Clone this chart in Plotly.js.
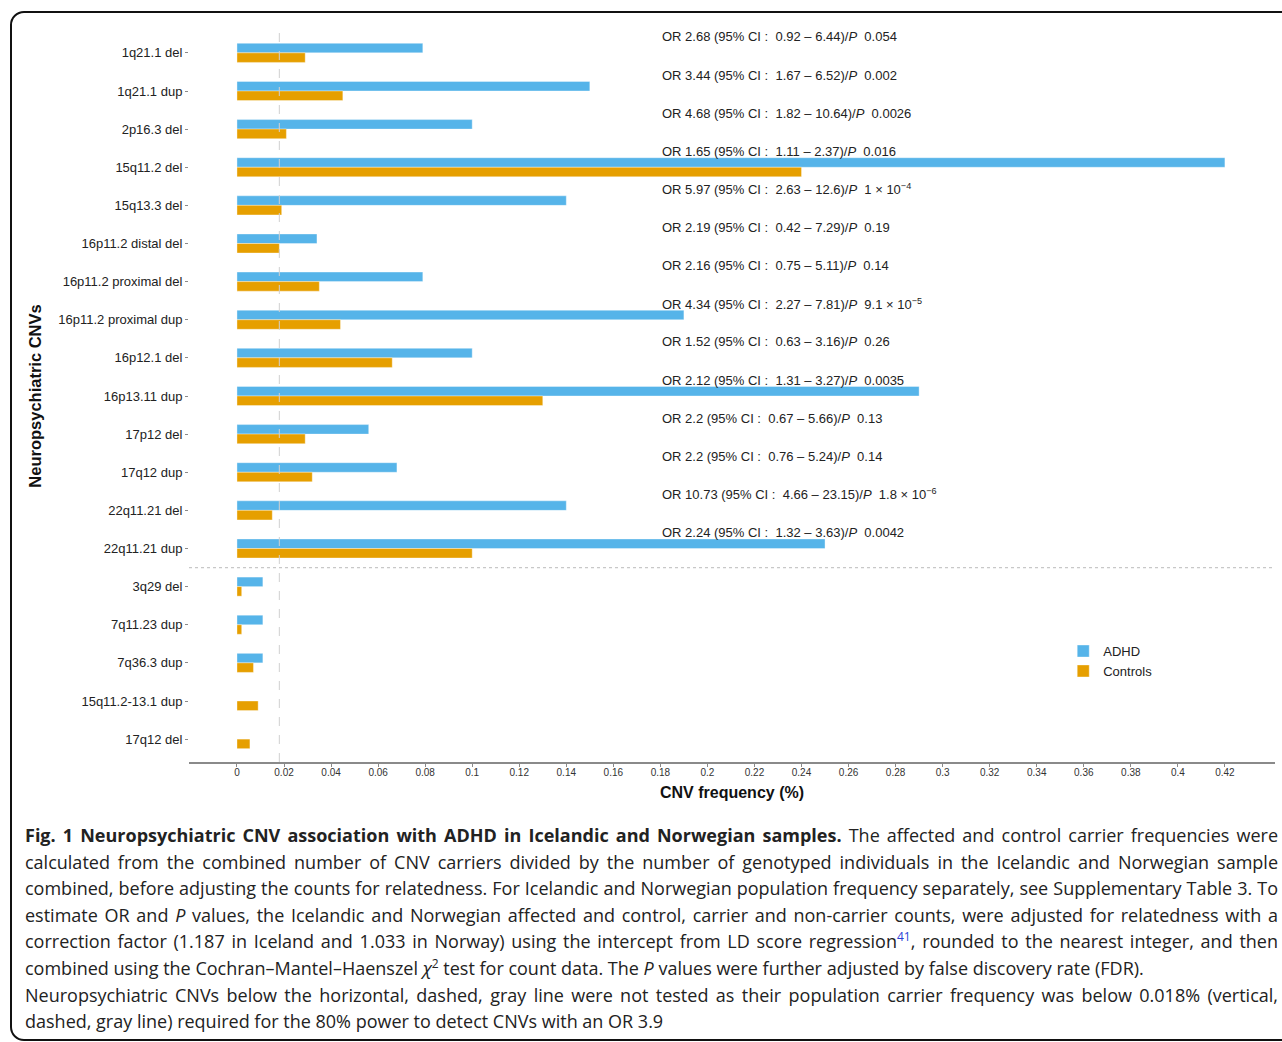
<!DOCTYPE html>
<html>
<head>
<meta charset="utf-8">
<script src="https://cdn.plot.ly/plotly-3.0.1.min.js"></script>
<style>
  html, body { margin: 0; padding: 0; background: #fff; }
  #wrap { position: relative; width: 1282px; height: 1042px; overflow: hidden; background: #fff; }
  #chart { position: absolute; left: 0; top: 0; width: 1282px; height: 810px; }
  #frame { position: absolute; left: 10px; top: 11px; width: 1320px; height: 1030px;
           border: 2px solid #111; border-radius: 14px; box-sizing: border-box; pointer-events: none; }
  #caption { position: absolute; left: 25px; top: 822px; width: 1253px;
             font-family: "Open Sans", "Noto Sans", sans-serif; font-size: 18px; color: #222; line-height: 26.6px; }
  #caption .ln { text-align: justify; text-align-last: justify; white-space: normal; }
  #caption .ln.last { text-align-last: left; }
  #caption sup { font-size: 12px; vertical-align: 7px; line-height: 12px; }
  #caption sup.ref { color: #2a3fd6; }
</style>
</head>
<body>
<div id="wrap">
  <div id="chart"></div>
  <div id="caption">
    <div class="ln"><b>Fig. 1 Neuropsychiatric CNV association with ADHD in Icelandic and Norwegian samples.</b> The affected and control carrier frequencies were</div>
    <div class="ln">calculated from the combined number of CNV carriers divided by the number of genotyped individuals in the Icelandic and Norwegian sample</div>
    <div class="ln">combined, before adjusting the counts for relatedness. For Icelandic and Norwegian population frequency separately, see Supplementary Table 3. To</div>
    <div class="ln">estimate OR and <i>P</i> values, the Icelandic and Norwegian affected and control, carrier and non-carrier counts, were adjusted for relatedness with a</div>
    <div class="ln">correction factor (1.187 in Iceland and 1.033 in Norway) using the intercept from LD score regression<sup class="ref">41</sup>, rounded to the nearest integer, and then</div>
    <div class="ln last">combined using the Cochran–Mantel–Haenszel <i>χ</i><sup>2</sup> test for count data. The <i>P</i> values were further adjusted by false discovery rate (FDR).</div>
    <div class="ln">Neuropsychiatric CNVs below the horizontal, dashed, gray line were not tested as their population carrier frequency was below 0.018% (vertical,</div>
    <div class="ln last">dashed, gray line) required for the 80% power to detect CNVs with an OR 3.9</div>
  </div>
  <div id="frame"></div>
</div>
<script>
// ---- data ----
const categories = [
  "1q21.1 del", "1q21.1 dup", "2p16.3 del", "15q11.2 del", "15q13.3 del",
  "16p11.2 distal del", "16p11.2 proximal del", "16p11.2 proximal dup", "16p12.1 del",
  "16p13.11 dup", "17p12 del", "17q12 dup", "22q11.21 del", "22q11.21 dup",
  "3q29 del", "7q11.23 dup", "7q36.3 dup", "15q11.2-13.1 dup", "17q12 del"
];
const adhdFreq = [0.079, 0.150, 0.100, 0.420, 0.140, 0.034, 0.079, 0.190, 0.100,
                  0.290, 0.056, 0.068, 0.140, 0.250, 0.011, 0.011, 0.011, 0, 0];
const controlFreq = [0.029, 0.045, 0.021, 0.240, 0.019, 0.018, 0.035, 0.044, 0.066,
                     0.130, 0.029, 0.032, 0.015, 0.100, 0.002, 0.002, 0.007, 0.009, 0.0055];
// association results for the tested CNVs (first 14 categories)
const orValues = ["2.68", "3.44", "4.68", "1.65", "5.97", "2.19", "2.16", "4.34", "1.52", "2.12", "2.2", "2.2", "10.73", "2.24"];
const ciLow    = ["0.92", "1.67", "1.82", "1.11", "2.63", "0.42", "0.75", "2.27", "0.63", "1.31", "0.67", "0.76", "4.66", "1.32"];
const ciHigh   = ["6.44", "6.52", "10.64", "2.37", "12.6", "7.29", "5.11", "7.81", "3.16", "3.27", "5.66", "5.24", "23.15", "3.63"];
const pValues  = ["0.054", "0.002", "0.0026", "0.016", "1 × 10<sup>−4</sup>", "0.19", "0.14",
                  "9.1 × 10<sup>−5</sup>", "0.26", "0.0035", "0.13", "0.14", "1.8 × 10<sup>−6</sup>", "0.0042"];
const powerThreshold = 0.018;
const xTicks = [0, 0.02, 0.04, 0.06, 0.08, 0.1, 0.12, 0.14, 0.16, 0.18, 0.2, 0.22, 0.24, 0.26, 0.28, 0.3, 0.32, 0.34, 0.36, 0.38, 0.4, 0.42];

// ---- chart ----
const FONT = "Liberation Sans, Arial, sans-serif";
const traces = [
  { type: "bar", orientation: "h", name: "ADHD", y: categories, x: adhdFreq,
    marker: { color: "#56B4E9", line: { color: "rgba(255,255,255,0.6)", width: 0.6 } }, hoverinfo: "x+y" },
  { type: "bar", orientation: "h", name: "Controls", y: categories, x: controlFreq,
    marker: { color: "#E69F00", line: { color: "rgba(255,255,255,0.6)", width: 0.6 } }, hoverinfo: "x+y" }
];

const annotations = orValues.map((o, i) => ({
  xref: "x", yref: "y", x: 0.18, y: categories[i], yshift: 16,
  xanchor: "left", yanchor: "middle", showarrow: false,
  text: "OR " + o + " (95% CI :  " + ciLow[i] + " – " + ciHigh[i] + ")/<i>P</i>  " + pValues[i],
  font: { family: FONT, size: 13, color: "#222" }
}));

const layout = {
  width: 1282, height: 810,
  margin: { l: 189, r: 7, t: 30, b: 48 },
  paper_bgcolor: "rgba(0,0,0,0)", plot_bgcolor: "#fff",
  barmode: "group", bargap: 0.5, bargroupgap: 0,
  showlegend: true,
  legend: { x: 0.8050, xanchor: "left", y: 0.172, yanchor: "top", bgcolor: "rgba(0,0,0,0)",
            font: { family: FONT, size: 13, color: "#222" }, tracegroupgap: 0, traceorder: "normal" },
  font: { family: FONT, color: "#222" },
  xaxis: {
    range: [-0.0204, 0.4413], tickvals: xTicks, ticktext: xTicks.map(String),
    showgrid: false, zeroline: false, showline: true, linecolor: "#8a8a8a", linewidth: 2,
    ticks: "outside", ticklen: 3, tickcolor: "#8a8a8a", tickwidth: 1,
    ticklabelstandoff: -3,
    tickfont: { family: FONT, size: 10, color: "#333" },
    title: { text: "<b>CNV frequency (%)</b>", standoff: 10, font: { family: FONT, size: 16, color: "#111" } },
    fixedrange: true
  },
  yaxis: {
    type: "category", categoryorder: "array", categoryarray: categories,
    range: [categories.length - 0.4, -0.6],
    showgrid: false, zeroline: false, showline: false,
    ticks: "outside", ticklen: 3, tickcolor: "#8a8a8a", tickwidth: 1,
    tickfont: { family: FONT, size: 13, color: "#222" },
    title: { text: "<b>Neuropsychiatric CNVs</b>", standoff: 12, font: { family: FONT, size: 16.5, color: "#111" } },
    fixedrange: true
  },
  shapes: [
    { type: "line", xref: "x", yref: "paper", x0: powerThreshold, x1: powerThreshold, y0: 0, y1: 1,
      line: { color: "#d0d0d0", width: 1, dash: "dash" } },
    { type: "line", xref: "paper", yref: "y", x0: 0, x1: 1, y0: 13.5, y1: 13.5,
      line: { color: "#c8c8c8", width: 1.2, dash: "dot" } }
  ],
  annotations: annotations
};

Plotly.newPlot("chart", traces, layout, { displayModeBar: false, staticPlot: true });
</script>
</body>
</html>
